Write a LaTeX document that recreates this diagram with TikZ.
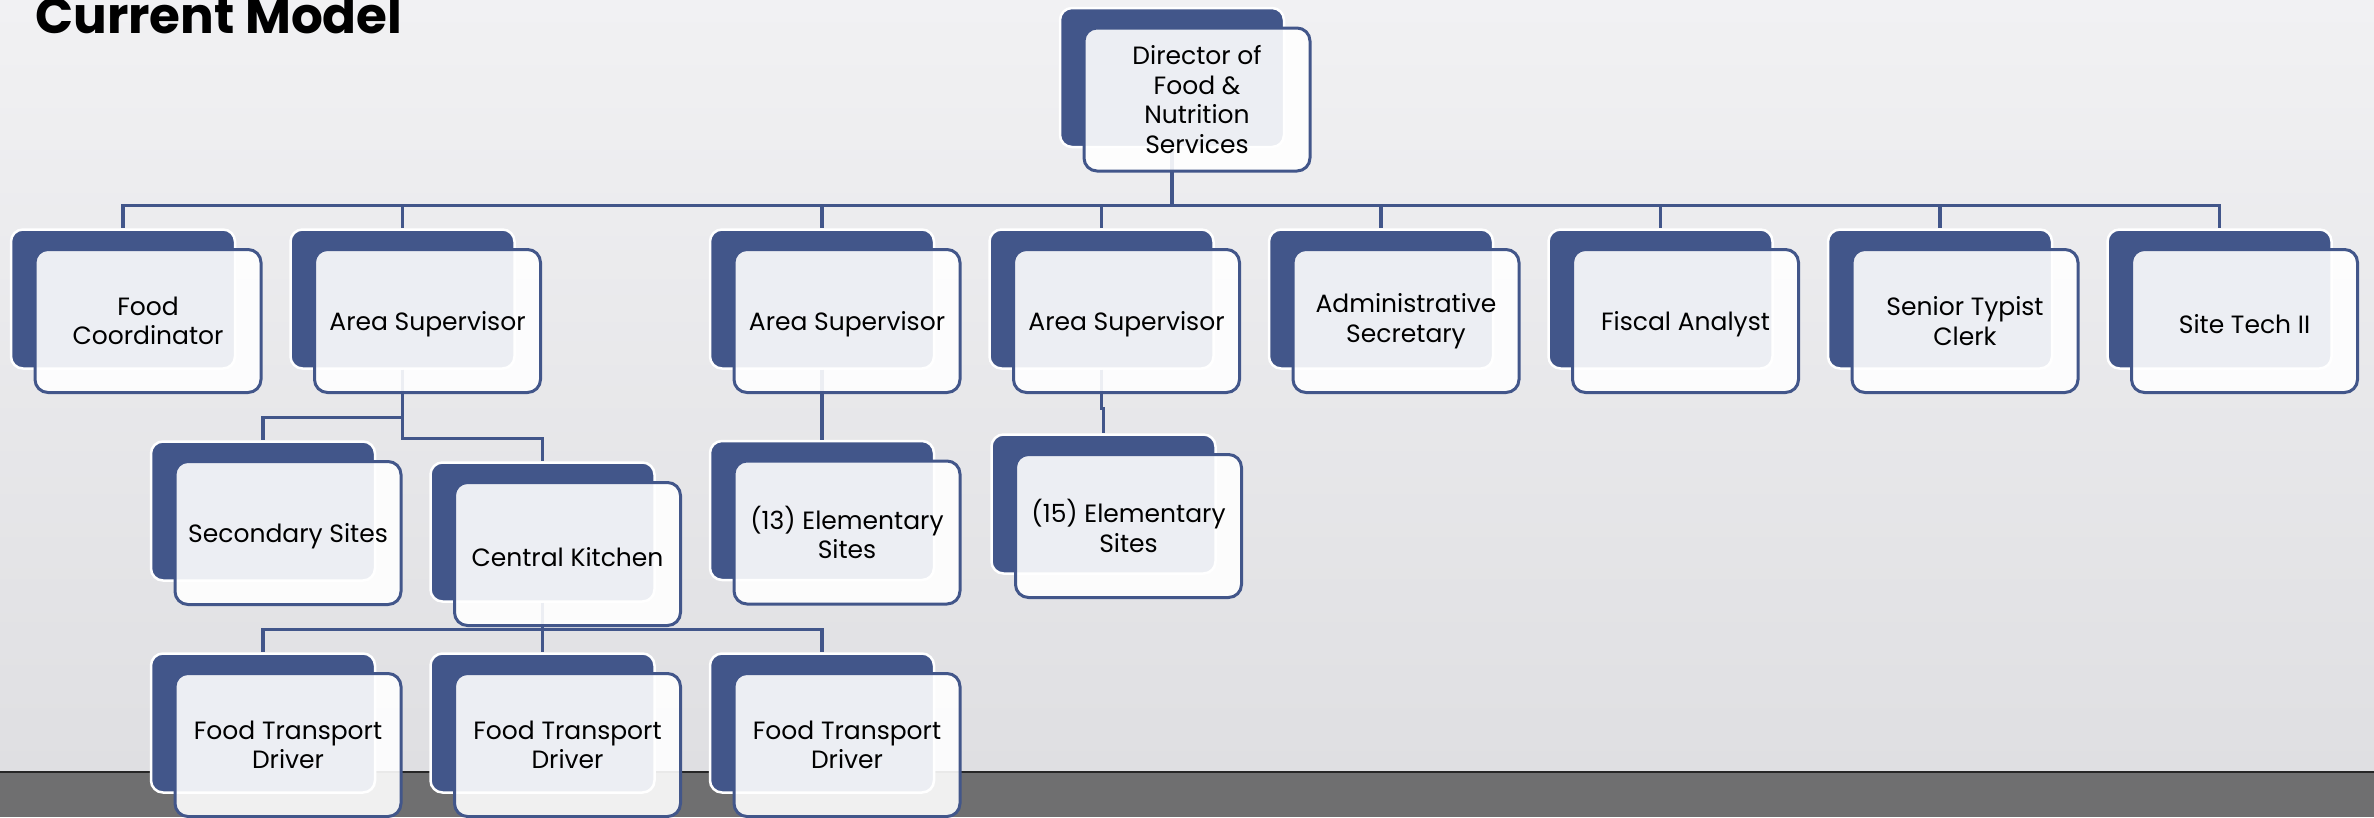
\documentclass[tikz,border=0pt]{standalone}
\usepackage{fontspec}
\setmainfont{Poppins}
\usetikzlibrary{positioning,calc}
\definecolor{FNBlue}{HTML}{42568A}
\definecolor{FNWall}{HTML}{F1F1F3}
\definecolor{FNWallLow}{HTML}{DFDFE2}
\definecolor{FNFloor}{HTML}{6F6F70}
\tikzset{
    backcard/.style = {draw=white, line width=2.5pt, fill=FNBlue,
        rounded corners=12pt,
        minimum width=224pt,
        minimum height=139pt, inner sep=0pt},
    frontcard/.style = {draw=FNBlue, line width=3pt, fill=white,
        fill opacity=.9, text opacity=1,
        rounded corners=13pt,
        minimum width=226pt,
        minimum height=143pt, align=center,
        execute at begin node={\rule{0pt}{26pt}},
        font=\fontsize{25}{29.5}\selectfont},
    link/.style = {draw=FNBlue, line width=3.5pt}
}

\begin{document}
\begin{tikzpicture}[x=1pt,y=-1pt]
        \useasboundingbox (0,0) rectangle (2374,817);
        \clip (0,0) rectangle (2374,817);
        % wall and floor
        \shade[top color=FNWall, bottom color=FNWallLow] (0,0) rectangle (2374,772);
        \fill[FNFloor] (0,772) rectangle (2374,817);
        \draw[black!85, line width=2pt] (0,772) -- (2374,772);
        \node[anchor=base west, inner sep=0pt, font=\fontsize{50}{50}\selectfont\bfseries] (title) at (35,33) {Current Model};
        % back cards
        \node[backcard] (dir) at (1172,77.5) {};
        \node[backcard] (fcoord) at (123,299) {};
        \node[backcard] (asup1) at (402.5,299) {};
        \node[backcard] (asup2) at (822,299) {};
        \node[backcard] (asup3) at (1101.5,299) {};
        \node[backcard] (admsec) at (1381,299) {};
        \node[backcard] (fiscal) at (1660.5,299) {};
        \node[backcard] (typist) at (1940,299) {};
        \node[backcard] (sitetech) at (2219.5,299) {};
        \node[backcard] (secsites) at (263,511) {};
        \node[backcard] (kitchen) at (542.5,532) {};
        \node[backcard] (elem13) at (822,510.5) {};
        \node[backcard] (elem15) at (1103.5,504) {};
        \node[backcard] (driver1) at (263,723) {};
        \node[backcard] (driver2) at (542.5,723) {};
        \node[backcard] (driver3) at (822,723) {};
        % connectors
        \foreach \c in {fcoord,asup1,asup2,asup3,admsec,fiscal,typist,sitetech}
            \draw[link] (dir.south) |- ([yshift=23pt]\c.north) -- (\c.north);
        \foreach \c in {secsites,kitchen}
            \draw[link] (asup1.south) |- ([yshift=23pt]\c.north) -- (\c.north);
        \foreach \c in {driver1,driver2,driver3}
            \draw[link] (kitchen.south) |- ([yshift=23pt]\c.north) -- (\c.north);
        \draw[link] (asup2.south) -- (elem13.north);
        \draw[link] (asup3.south) |- ([yshift=25pt]elem15.north) -- (elem15.north);
        % front cards
        \node[frontcard] (dirF) at ([shift={(25,22)}]dir) {Director of\\Food \&\\Nutrition\\Services};
        \node[frontcard] (fcoordF) at ([shift={(25,22)}]fcoord) {Food\\Coordinator};
        \node[frontcard] (asup1F) at ([shift={(25,22)}]asup1) {Area Supervisor};
        \node[frontcard] (asup2F) at ([shift={(25,22)}]asup2) {Area Supervisor};
        \node[frontcard] (asup3F) at ([shift={(25,22)}]asup3) {Area Supervisor};
        \node[frontcard] (admsecF) at ([shift={(25,22)}]admsec) {Administrative\\Secretary};
        \node[frontcard] (fiscalF) at ([shift={(25,22)}]fiscal) {Fiscal Analyst};
        \node[frontcard] (typistF) at ([shift={(25,22)}]typist) {Senior Typist\\Clerk};
        \node[frontcard] (sitetechF) at ([shift={(25,22)}]sitetech) {Site Tech II};
        \node[frontcard] (secsitesF) at ([shift={(25,22)}]secsites) {Secondary Sites};
        \node[frontcard] (kitchenF) at ([shift={(25,22)}]kitchen) {Central Kitchen};
        \node[frontcard] (elem13F) at ([shift={(25,22)}]elem13) {(13) Elementary\\Sites};
        \node[frontcard] (elem15F) at ([shift={(25,22)}]elem15) {(15) Elementary\\Sites};
        \node[frontcard] (driver1F) at ([shift={(25,22)}]driver1) {Food Transport\\Driver};
        \node[frontcard] (driver2F) at ([shift={(25,22)}]driver2) {Food Transport\\Driver};
        \node[frontcard] (driver3F) at ([shift={(25,22)}]driver3) {Food Transport\\Driver};
\end{tikzpicture}
\end{document}
